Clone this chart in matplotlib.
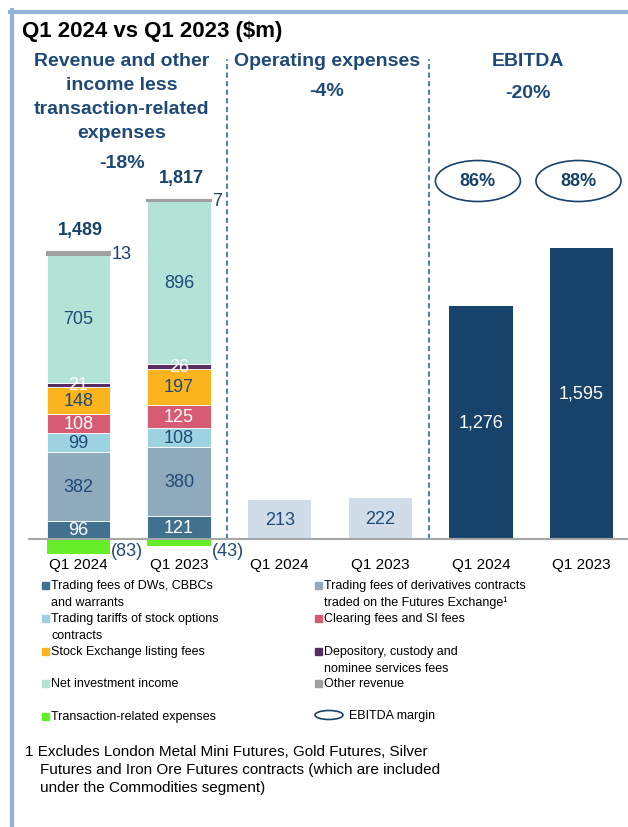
import matplotlib.pyplot as plt
from matplotlib.patches import Ellipse, Rectangle
from matplotlib.lines import Line2D

plt.rcParams['font.family'] = ['Liberation Sans', 'DejaVu Sans']

# data ($m)
periods = ['Q1 2024', 'Q1 2023']
dws_fees = [96, 121]
deriv_fees = [382, 380]
stock_opt_fees = [99, 108]
clearing_fees = [108, 125]
listing_fees = [148, 197]
depository_fees = [21, 26]
net_inv_income = [705, 896]
other_revenue = [13, 7]
txn_expenses = [-83, -43]
opex = [213, 222]
ebitda = [1276, 1595]
ebitda_margin = ['86%', '88%']
rev_change = '-18%'
opex_change = '-4%'
ebitda_change = '-20%'

NAVY = '#17426a'
TXT = '#1f4a78'
c_dws = '#41718e'
c_deriv = '#8eaabc'
c_opt = '#9dd3e0'
c_clear = '#d65b73'
c_list = '#fbb41d'
c_dep = '#5a2d62'
c_net = '#b3e2d7'
c_other = '#a0a0a0'
c_txn = '#66ee2b'
c_opex = '#d0dde8'

W_PX, H_PX = 628, 828
fig = plt.figure(figsize=(6.28, 8.28), dpi=100)


def ftxt(x, y, s, **kw):
    fig.text(x / W_PX, 1 - y / H_PX, s, **kw)


# axes placed in pixel terms
ax_l, ax_r, ax_t, ax_b = 28, 628, 60, 580
base_px = 539.5
xstep = 100.6      # px per category
yscale = 0.182     # px per $m
first_px = 78.5
ax = fig.add_axes([ax_l / W_PX, 1 - ax_b / H_PX, (ax_r - ax_l) / W_PX, (ax_b - ax_t) / H_PX])
x0 = -(first_px - ax_l) / xstep
ax.set_xlim(x0, x0 + (ax_r - ax_l) / xstep)
y_top = (base_px - ax_t) / yscale
ax.set_ylim(-(ax_b - base_px) / yscale, y_top)
for s in ax.spines.values():
    s.set_visible(False)
ax.spines['bottom'].set_position(('data', 0))
ax.set_yticks([])

w = 0.63
rev_x = [0, 1]
opex_x = [2, 3]
eb_x = [4, 5]

segments = [
    (dws_fees, c_dws, 'white'),
    (deriv_fees, c_deriv, TXT),
    (stock_opt_fees, c_opt, TXT),
    (clearing_fees, c_clear, 'white'),
    (listing_fees, c_list, TXT),
    (depository_fees, c_dep, 'white'),
    (net_inv_income, c_net, TXT),
]
bottom = [0, 0]
for vals, col, tcol in segments:
    ax.bar(rev_x, vals, w, bottom=bottom, color=col, edgecolor='white', linewidth=0.6, zorder=2)
    for i in range(2):
        ax.text(rev_x[i], bottom[i] + vals[i] / 2, str(vals[i]), ha='center', va='center',
                fontsize=13, color=tcol, zorder=5)
    bottom = [bottom[i] + vals[i] for i in range(2)]

ax.bar(rev_x, other_revenue, w, bottom=bottom, color=c_other, edgecolor=c_other, linewidth=1.5, zorder=2)
for i in range(2):
    top = bottom[i] + other_revenue[i]
    ax.text(rev_x[i] + w / 2 + 0.01, top - other_revenue[i] / 2, str(other_revenue[i]),
            ha='left', va='center', fontsize=13, color=NAVY)
    total = top + txn_expenses[i]
    ax.text(rev_x[i] + 0.02, top + 125, f'{total:,}', ha='center', va='center',
            fontsize=13, fontweight='bold', color=NAVY)

ax.bar(rev_x, txn_expenses, w, color=c_txn, zorder=2)
for i in range(2):
    ax.text(rev_x[i] + w / 2 + 0.01, -68, f'({-txn_expenses[i]})', ha='left', va='center',
            fontsize=13, color=TXT)

ax.bar(opex_x, opex, w, color=c_opex, zorder=2)
for i in range(2):
    ax.text(opex_x[i], opex[i] / 2, str(opex[i]), ha='center', va='center', fontsize=13, color=TXT)

ax.bar(eb_x, ebitda, w, color=NAVY, zorder=2)
for i in range(2):
    ax.text(eb_x[i], ebitda[i] / 2, f'{ebitda[i]:,}', ha='center', va='center', fontsize=13, color='white')
    ax.add_patch(Ellipse((eb_x[i] - 0.03, (base_px - 182) / yscale), 0.845, 41 / yscale,
                         fill=False, edgecolor=NAVY, linewidth=1.2))
    ax.text(eb_x[i] - 0.03, (base_px - 182) / yscale, ebitda_margin[i], ha='center', va='center',
            fontsize=13, fontweight='bold', color=NAVY)

ax.axhline(0, color='#a6a6a6', linewidth=1.5, zorder=3)
for xd in [1.48, 3.48]:
    ax.plot([xd, xd], [0, y_top], color='#4f81bd', linewidth=1.5, linestyle=(0, (2.5, 1.6)),
            clip_on=False, zorder=1)

ax.set_xticks(rev_x + opex_x + eb_x)
ax.set_xticklabels(periods * 3, fontsize=11, color='black')
ax.tick_params(axis='x', length=0, pad=13)

# frame
fig.add_artist(Line2D([10 / W_PX, 1], [1 - 13 / H_PX] * 2, color='#95b3d7', linewidth=3))
fig.add_artist(Line2D([12 / W_PX] * 2, [0, 1 - 11 / H_PX], color='#95b3d7', linewidth=3))

# titles
ftxt(22, 31, 'Q1 2024 vs Q1 2023 ($m)', fontsize=16, fontweight='bold', va='center')
for k, line in enumerate(['Revenue and other', 'income less', 'transaction-related', 'expenses']):
    ftxt(122, 62 + 24 * k, line, fontsize=14, fontweight='bold', color=TXT, ha='center', va='center')
ftxt(122, 163, rev_change, fontsize=14, fontweight='bold', color=TXT, ha='center', va='center')
ftxt(327, 62, 'Operating expenses', fontsize=14, fontweight='bold', color=TXT, ha='center', va='center')
ftxt(327, 92, opex_change, fontsize=14, fontweight='bold', color=TXT, ha='center', va='center')
ftxt(528, 62, 'EBITDA', fontsize=14, fontweight='bold', color=TXT, ha='center', va='center')
ftxt(528, 93, ebitda_change, fontsize=14, fontweight='bold', color=TXT, ha='center', va='center')

# legend
legend_items = [
    (45, 586, c_dws, ['Trading fees of DWs, CBBCs', 'and warrants']),
    (318, 586, c_deriv, ['Trading fees of derivatives contracts', 'traded on the Futures Exchange\u00b9']),
    (45, 619, c_opt, ['Trading tariffs of stock options', 'contracts']),
    (318, 619, c_clear, ['Clearing fees and SI fees']),
    (45, 652, c_list, ['Stock Exchange listing fees']),
    (318, 652, c_dep, ['Depository, custody and', 'nominee services fees']),
    (45, 684, c_net, ['Net investment income']),
    (318, 684, c_other, ['Other revenue']),
    (45, 717, c_txn, ['Transaction-related expenses']),
]
for mx, my, col, lines in legend_items:
    fig.add_artist(Rectangle(((mx - 3.5) / W_PX, 1 - (my + 3.5) / H_PX), 7 / W_PX, 7 / H_PX,
                             transform=fig.transFigure, color=col))
    for k, line in enumerate(lines):
        ftxt(mx + 6, my + 17 * k, line, fontsize=9, va='center', color='black')
fig.add_artist(Ellipse((329 / W_PX, 1 - 716 / H_PX), 28 / W_PX, 9 / H_PX, transform=fig.transFigure,
                       fill=False, edgecolor=NAVY, linewidth=1.2))
ftxt(349, 716, 'EBITDA margin', fontsize=9, va='center', color='black')

# footnote
ftxt(25, 752, '1 Excludes London Metal Mini Futures, Gold Futures, Silver', fontsize=11, va='center')
ftxt(40, 770, 'Futures and Iron Ore Futures contracts (which are included', fontsize=11, va='center')
ftxt(40, 788, 'under the Commodities segment)', fontsize=11, va='center')

fig.savefig('out.png', dpi=100)
